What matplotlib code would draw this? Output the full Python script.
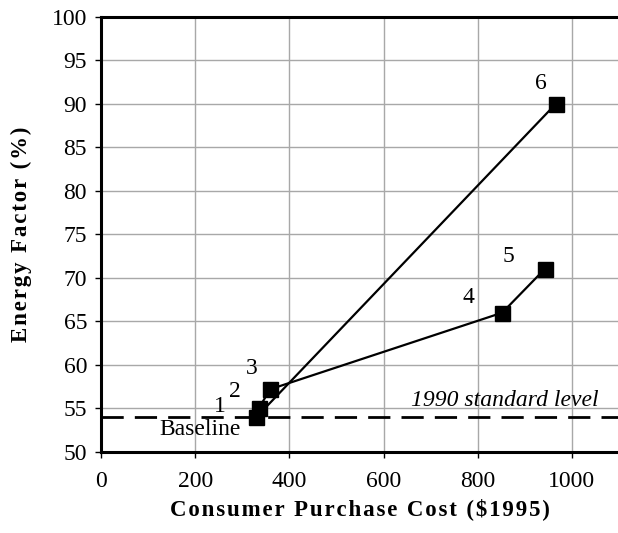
import matplotlib
matplotlib.use("Agg")
import matplotlib.pyplot as plt

# Data
point_ids = ["1", "2", "3", "4", "5", "6"]
cost = [330, 335, 359, 852, 942, 966]
energy_factor = [54.0, 55.0, 57.2, 66.0, 71.0, 90.0]
path_a = [0, 1, 2, 3, 4]   # 1-2-3-4-5
path_b = [0, 5]            # 1-6
standard_level = 54.0
label_pos = {"1": (253, 55.2), "2": (285, 56.9), "3": (320, 59.6),
             "4": (781, 67.8), "5": (866, 72.4), "6": (935, 92.3)}
xticks = [0, 200, 400, 600, 800, 1000]
yticks = list(range(50, 101, 5))

plt.rcParams['font.family'] = ['Liberation Serif', 'DejaVu Serif']

fig = plt.figure(figsize=(6.18, 5.33), dpi=100)
ax = fig.add_axes([101/618, 81/533, 518/618, 435.3/533])

ax.set_xlim(0, 1100)
ax.set_ylim(50, 100)
ax.set_xticks(xticks)
ax.set_yticks(yticks)
ax.grid(True, color='#a8a8a8', linewidth=1.0, zorder=0)
ax.set_axisbelow(True)

for sp in ['left', 'bottom', 'top']:
    ax.spines[sp].set_linewidth(2.2)
    ax.spines[sp].set_color('black')
ax.spines['right'].set_visible(False)

fs = 17
ax.tick_params(axis='both', direction='out', length=4, width=1, color='black',
               labelsize=fs, pad=6)
ax.tick_params(axis='x', pad=10)

ax.axhline(standard_level, color='black', linewidth=2.0, dashes=(8, 4), zorder=2)

ax.plot([cost[i] for i in path_a], [energy_factor[i] for i in path_a],
        color='black', linewidth=1.6, zorder=3)
ax.plot([cost[i] for i in path_b], [energy_factor[i] for i in path_b],
        color='black', linewidth=1.6, zorder=3)
ax.plot(cost, energy_factor, linestyle='none', marker='s', markersize=10.8,
        color='black', zorder=4)

for pid in point_ids:
    x, y = label_pos[pid]
    ax.text(x, y, pid, fontsize=fs, ha='center', va='center', zorder=5)

ax.text(210, 52.6, "Baseline", fontsize=fs, ha='center', va='center', zorder=5)
ax.text(1057, 55.9, "1990 standard level", fontsize=fs, style='italic',
        ha='right', va='center', zorder=5)

def spaced(s):
    return "\u200a".join(s)

ax.set_xlabel(spaced("Consumer Purchase Cost ($1995)"), fontsize=16.5,
              fontweight='bold', labelpad=4)
ax.set_ylabel(spaced("Energy Factor (%)"), fontsize=16.5,
              fontweight='bold', labelpad=14)

fig.savefig("out.png", dpi=100)
